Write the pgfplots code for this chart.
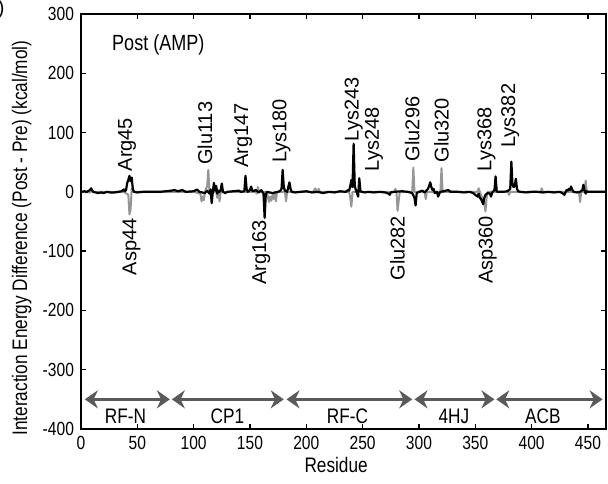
\documentclass[border=0pt]{standalone}
\usepackage{fontspec}
\setmainfont{Liberation Sans}
\newfontfamily\narrowfont[FakeStretch=0.82]{Liberation Sans}
\usepackage{pgfplots}
\pgfplotsset{compat=1.18}
\usetikzlibrary{arrows.meta}
\definecolor{pregray}{RGB}{150,150,150}
\definecolor{arrowgray}{RGB}{90,90,90}
\begin{document}
\begin{tikzpicture}
\begin{axis}[
  scale only axis,
  width=262.5pt, height=207.5pt,
  xmin=0, xmax=466,
  ymin=-400, ymax=300,
  xtick={0,50,...,450},
  ytick={-400,-300,...,300},
  tick align=inside,
  major tick length=2.5pt,
  axis line style={line width=0.9pt},
  every tick/.style={black, line width=0.7pt},
  /pgf/number format/assume math mode=true,
  tick label style={font=\narrowfont\fontsize{9.5}{11}\selectfont},
  xlabel={Residue},
  ylabel={Interaction Energy Difference (Post - Pre) (kcal/mol)},
  label style={font=\narrowfont\fontsize{10.5}{12}\selectfont},
  xlabel style={at={(axis description cs:0.486,-0.087)}, anchor=center},
  ylabel style={at={(axis description cs:-0.1128,0.46)}, anchor=center},
  clip mode=individual,
]
% grey series
\addplot[pregray, line width=1pt, line join=round] coordinates {
(1,0) (8,-1) (9,2) (10,0) (38,0) (42,-5) (43,-38) (44,-30) (45,5) (46,0)
(100,0) (106,-3) (107,-16) (108,-8) (109,-14) (110,0) (112,10) (113,37) (114,0)
(120,0) (121,-10) (122,0) (123,-16) (124,0) (155,0) (156,-3) (157,8) (158,0)
(165,0) (166,-10) (167,-17) (168,-8) (169,-15) (170,-5) (171,-12) (172,0) (173,-16) (174,0)
(181,0) (182,-16) (183,0) (206,0) (207,3) (208,6) (209,0) (210,0) (211,5) (212,0)
(238,0) (239,-10) (240,-25) (241,0) (278,0) (279,5) (280,0) (281,-32) (282,-15) (283,0)
(294,0) (295,41) (296,0) (305,0) (306,-12) (307,0) (319,0) (320,40) (321,0)
(352,0) (353,6) (354,0) (358,-20) (359,-33) (360,-10) (361,0) (379,0) (380,-5) (381,0)
(408,0) (409,6) (410,0) (442,0) (443,-17) (444,0) (447,0) (448,19) (449,0) (466,0)
};
% black series
\addplot[black, line width=1.1pt, line join=round] coordinates {
(1,0) (3,1) (5,0) (8,3) (9,6) (10,2) (11,0) (13,-1) (15,-2) (18,-1) (20,-2) (23,0)
(26,-1) (30,-1) (33,0) (36,1) (38,4) (39,1) (40,3) (41,15) (42,20) (43,27) (44,18)
(45,24) (46,5) (47,0) (50,-1) (55,0) (60,0) (70,0) (80,2) (83,3) (86,1) (90,3) (93,0)
(100,1) (103,4) (105,0) (110,-2) (112,2) (114,-3) (115,4) (116,-19) (117,0) (118,15)
(119,2) (120,10) (121,-3) (122,2) (123,0) (124,3) (125,14) (126,0) (128,-2) (130,0)
(135,1) (140,2) (142,0) (145,1) (146,27) (147,5) (148,0) (150,3) (151,9) (152,2)
(153,1) (155,3) (158,-1) (160,3) (161,0) (162,-3) (163,-44) (164,-5) (165,0) (170,-2)
(175,0) (177,2) (178,5) (179,37) (180,8) (181,2) (183,0) (185,16) (186,5) (187,0)
(190,-1) (195,0) (200,1) (205,-1) (210,0) (215,-2) (220,0) (225,-1) (230,1) (235,0)
(237,3) (238,2) (239,10) (240,20) (241,8) (242,81) (243,10) (244,3) (245,-2) (246,-8)
(247,23) (248,2) (249,0) (252,-1) (255,0) (260,-1) (265,0) (270,-1) (273,-3) (274,-5)
(275,-1) (278,0) (285,1) (290,0) (294,-2) (296,-10) (297,-23) (298,-2) (300,0) (303,2)
(305,-1) (308,5) (309,10) (310,16) (311,8) (312,3) (313,5) (314,-2) (316,0) (317,-8)
(318,-3) (319,0) (322,1) (326,3) (328,0) (335,0) (340,-1) (345,0) (348,-2) (350,-5)
(352,-8) (353,-3) (354,-10) (355,-12) (356,-16) (357,-21) (358,-10) (359,-5) (361,-2)
(363,-3) (364,-8) (365,-1) (367,3) (368,26) (369,1) (370,0) (375,0) (378,1) (380,3)
(381,5) (382,51) (383,12) (384,8) (385,10) (386,22) (387,5) (388,1) (390,0) (395,-1)
(400,0) (405,0) (410,-1) (415,0) (420,-1) (425,0) (428,-3) (429,-5) (430,-1) (431,3)
(432,2) (433,5) (434,3) (435,9) (436,4) (437,0) (440,-1) (443,0) (445,3) (446,12)
(447,2) (448,-3) (449,1) (450,0) (455,0) (460,0) (466,0)
};
% residue labels
\begin{scope}[every node/.style={font=\fontsize{10}{12}\selectfont, inner sep=0pt, rotate=90}]
\node[anchor=west] at (axis cs:41,34) {Arg45};
\node[anchor=west] at (axis cs:110,45) {Glu113};
\node[anchor=west] at (axis cs:144,40) {Arg147};
\node[anchor=west] at (axis cs:178,48) {Lys180};
\node[anchor=west] at (axis cs:242,85) {Lys243};
\node[anchor=west] at (axis cs:260,34) {Lys248};
\node[anchor=west] at (axis cs:294,51) {Glu296};
\node[anchor=west] at (axis cs:320,49) {Glu320};
\node[anchor=west] at (axis cs:360,34) {Lys368};
\node[anchor=west] at (axis cs:381,74) {Lys382};
\node[anchor=east] at (axis cs:45,-44) {Asp44};
\node[anchor=east] at (axis cs:160,-47) {Arg163};
\node[anchor=east] at (axis cs:281,-40) {Glu282};
\node[anchor=east] at (axis cs:361,-40) {Asp360};
\end{scope}
% domain arrows
\begin{scope}[arrowgray, line width=1.4pt, {Stealth[length=6.5pt,width=9pt]}-{Stealth[length=6.5pt,width=9pt]}]
\draw (axis cs:3.4,-350) -- (axis cs:78.9,-350);
\draw (axis cs:80.6,-350) -- (axis cs:180,-350);
\draw (axis cs:182.4,-350) -- (axis cs:294,-350);
\draw (axis cs:296,-350) -- (axis cs:367,-350);
\draw (axis cs:368.6,-350) -- (axis cs:463,-350);
\end{scope}
\begin{scope}[every node/.style={font=\narrowfont\fontsize{10.5}{12}\selectfont, anchor=center}]
\node at (axis cs:39.4,-378) {RF-N};
\node at (axis cs:130,-378) {CP1};
\node at (axis cs:236.6,-378) {RF-C};
\node at (axis cs:331,-378) {4HJ};
\node at (axis cs:410,-378) {ACB};
\end{scope}
\node[anchor=west, font=\narrowfont\fontsize{11}{13}\selectfont] at (axis description cs:0.046,0.925) {Post (AMP)};
\node[anchor=north east, font=\fontsize{10}{12}\selectfont, inner sep=0pt] at (axis description cs:-0.1448,1.0337) {b)};
\coordinate (sw) at (rel axis cs:0,0);
\coordinate (ne) at (rel axis cs:1,1);
\end{axis}
\pgfresetboundingbox
\path[use as bounding box] ([xshift=-40.5pt,yshift=-27.5pt]sw) rectangle ([xshift=1pt,yshift=7pt]ne);
\end{tikzpicture}
\end{document}
